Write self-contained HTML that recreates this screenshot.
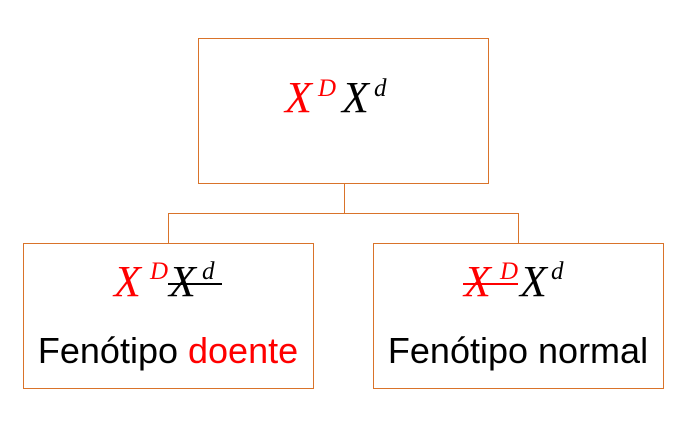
<!DOCTYPE html>
<html><head><meta charset="utf-8"><style>
body{margin:0;width:685px;height:426px;background:#fff;position:relative;overflow:hidden}
.b{position:absolute;border:1px solid #d9732a;box-sizing:border-box}
.l{position:absolute;background:#d9732a}
.m{position:absolute;font-family:"Liberation Serif",serif;font-style:italic;line-height:1;white-space:nowrap}
.X{font-size:44px}
.s{font-size:25px}
.t{position:absolute;font-family:"Liberation Sans",sans-serif;font-size:36px;line-height:1;white-space:nowrap;width:290px;text-align:center}
.r{color:#f00}
.st{position:absolute;height:2px}
</style></head><body>
<div class="b" style="left:198px;top:38px;width:291px;height:146px"></div>
<div class="b" style="left:23px;top:243px;width:291px;height:146px"></div>
<div class="b" style="left:373px;top:243px;width:291px;height:146px"></div>
<div class="l" style="left:344px;top:183px;width:1px;height:31px"></div>
<div class="l" style="left:168px;top:213px;width:351px;height:1px"></div>
<div class="l" style="left:168px;top:213px;width:1px;height:30px"></div>
<div class="l" style="left:518px;top:213px;width:1px;height:30px"></div>

<!-- top formula -->
<div class="m X r" style="left:285px;top:76px">X</div>
<div class="m s r" style="left:318px;top:76px">D</div>
<div class="m X" style="left:342px;top:76px">X</div>
<div class="m s" style="left:374px;top:76px">d</div>

<!-- left formula -->
<div class="m X r" style="left:114px;top:260px">X</div>
<div class="m s r" style="left:150px;top:259px">D</div>
<div class="m X" style="left:169px;top:260px">X</div>
<div class="m s" style="left:202px;top:259px">d</div>
<div class="st" style="left:168px;top:283px;width:54px;background:#000"></div>

<!-- right formula -->
<div class="m X r" style="left:464px;top:260px">X</div>
<div class="m s r" style="left:500px;top:259px">D</div>
<div class="m X" style="left:520px;top:260px">X</div>
<div class="m s" style="left:551px;top:259px">d</div>
<div class="st" style="left:463px;top:283px;width:55px;background:#f00"></div>

<div class="t" style="left:23px;top:333px">Fenótipo <span class="r">doente</span></div>
<div class="t" style="left:373px;top:333px">Fenótipo normal</div>
</body></html>
